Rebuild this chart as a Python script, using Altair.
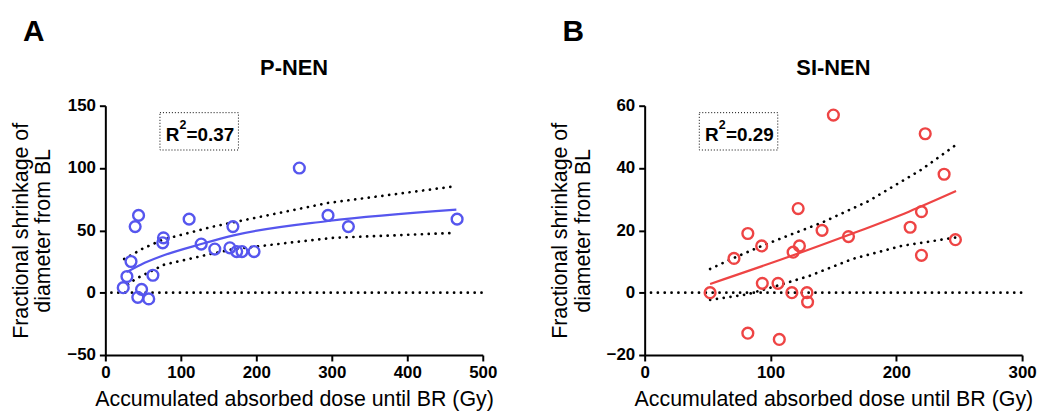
import altair as alt
import pandas as pd

FONT = "Liberation Sans"
BLUE = "#5656ee"
RED = "#ee4444"

# ---------------- Panel A: P-NEN ----------------
a_dose = [257, 44, 39.5, 111, 169, 295, 322, 466, 77, 76, 127, 145, 165, 174, 181, 197,
          34, 28.6, 63, 23.7, 48, 43, 57.5]
a_shrink = [100, 62, 53, 59, 53, 62, 53, 59, 44, 40, 39, 35, 36, 33, 33, 33,
            25, 13, 14, 4, 2.6, -3.7, -5]
a_fit_x = [28, 47, 73, 127, 170, 295, 465]
a_fit_y = [16.5, 22.5, 29, 39, 46, 57.5, 66.7]
a_up_x = [25, 50, 76, 139, 170, 295, 465]
a_up_y = [27, 35.5, 42.5, 52.5, 56.5, 72, 85.5]
a_lo_x = [30, 40, 78, 139, 170, 301, 464]
a_lo_y = [6.5, 11, 22.5, 31, 35, 44, 48]
a_zero_x = [8, 500]
a_xticks = [0, 100, 200, 300, 400, 500]
a_yticks = [-50, 0, 50, 100, 150]

# ---------------- Panel B: SI-NEN ----------------
b_dose = [150, 223, 238, 220, 211, 220, 247, 162, 141, 122, 123, 118, 82, 93, 71,
          93.5, 106, 52, 117, 129, 129.5, 82, 107]
b_shrink = [57, 51, 38, 26, 21, 12, 17, 18, 20, 27, 15, 13, 19, 15, 11,
            3, 3, 0, 0, 0, -3, -13, -15]
b_fit_x = [52, 118, 162, 210, 247.5]
b_fit_y = [2.8, 12, 18.5, 26, 32.6]
b_up_x = [52, 70, 93, 112, 141, 178, 220, 247]
b_up_y = [7.6, 11, 15, 18, 22.5, 29.4, 39.5, 47.3]
b_lo_x = [52, 81, 105, 131, 165, 204, 247]
b_lo_y = [-2.3, -0.6, 2.2, 5.4, 10.8, 15, 17.7]
b_zero_x = [5, 300]
b_xticks = [0, 100, 200, 300]
b_yticks = [-20, 0, 20, 40, 60]

X_TITLE = "Accumulated absorbed dose until BR (Gy)"
Y_TITLE = ["Fractional shrinkage of", "diameter from BL"]

W, H = 380, 251


def txt(t, size, x, y, align="left"):
    return alt.Chart(pd.DataFrame({"t": [t]})).mark_text(
        font=FONT, fontSize=size, fontWeight="bold", color="black", align=align,
        baseline="alphabetic"
    ).encode(text="t:N", x=alt.value(x), y=alt.value(y))


def panel(dose, shrink, fit_x, fit_y, up_x, up_y, lo_x, lo_y, zero_x,
          xdom, ydom, xticks, yticks, color, letter, title, r2):
    pts = pd.DataFrame({"dose": dose, "shrink": shrink})
    fit = pd.DataFrame({"dose": fit_x, "shrink": fit_y})
    dots = pd.concat([
        pd.DataFrame({"dose": up_x, "shrink": up_y, "curve": "upper"}),
        pd.DataFrame({"dose": lo_x, "shrink": lo_y, "curve": "lower"}),
        pd.DataFrame({"dose": zero_x, "shrink": [0] * len(zero_x), "curve": "zero"}),
    ])

    xs = alt.Scale(domain=xdom, nice=False, zero=False)
    ys = alt.Scale(domain=ydom, nice=False, zero=False)
    xaxis = alt.Axis(values=xticks, title=X_TITLE, titlePadding=8, labelPadding=4,
                     labelFlush=False)
    yaxis = alt.Axis(values=yticks, title=Y_TITLE, titlePadding=12, labelPadding=4,
                     titleLineHeight=23, labelFlush=False)
    X = alt.X("dose:Q", scale=xs, axis=xaxis)
    Y = alt.Y("shrink:Q", scale=ys, axis=yaxis)

    dot_layer = alt.Chart(dots).mark_line(
        color="black", strokeWidth=2.7, strokeDash=[0.1, 6.8], strokeCap="round"
    ).encode(x=X, y=Y, detail="curve:N")

    fit_layer = alt.Chart(fit).mark_line(
        color=color, strokeWidth=2.2, interpolate="monotone"
    ).encode(x=X, y=Y)

    pt_layer = alt.Chart(pts).mark_point(
        shape="circle", filled=False, size=118, strokeWidth=2.4, color=color, opacity=1
    ).encode(x=X, y=Y)

    box = alt.Chart(pd.DataFrame({"k": [0]})).mark_rect(
        fill=None, stroke="black", strokeWidth=1, strokeDash=[1, 2]
    ).encode(x=alt.value(55), x2=alt.value(134), y=alt.value(7), y2=alt.value(44.6))

    r_main = txt("R", 19, 60.7, 35.5)
    r_sup = txt("2", 12.5, 74.6, 23.5)
    r_val = txt("=" + r2, 19, 81.8, 35.5)

    letter_text = txt(letter, 30, -72, -65, align="center")
    title_text = txt(title, 22, W / 2, -30.5, align="center")

    return alt.layer(dot_layer, fit_layer, pt_layer, box, r_main, r_sup, r_val,
                     letter_text, title_text).properties(width=W, height=H)


pa = panel(a_dose, a_shrink, a_fit_x, a_fit_y, a_up_x, a_up_y, a_lo_x, a_lo_y, a_zero_x,
           [0, 500], [-50, 150], a_xticks, a_yticks, BLUE, "A", "P-NEN", "0.37")
pb = panel(b_dose, b_shrink, b_fit_x, b_fit_y, b_up_x, b_up_y, b_lo_x, b_lo_y, b_zero_x,
           [0, 300], [-20, 60], b_xticks, b_yticks, RED, "B", "SI-NEN", "0.29")

chart = alt.hconcat(pa, pb, spacing=163, bounds="flush").configure_view(
    stroke=None
).configure_axis(
    grid=False, domainColor="black", domainWidth=2, tickColor="black", tickWidth=2,
    tickSize=6, labelFont=FONT, labelFontSize=17, labelFontWeight="bold",
    labelColor="black", titleFont=FONT, titleFontSize=21.5, titleFontWeight="normal",
    titleColor="black"
).properties(
    padding={"left": 2, "top": 8, "right": 0, "bottom": 0},
    background="white"
)

chart.save("out.html", embed_options={"renderer": "svg", "actions": False})
